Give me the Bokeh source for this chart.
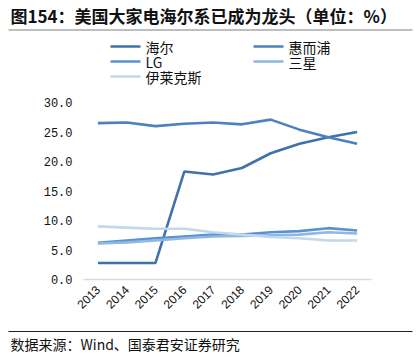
from bokeh.plotting import figure
from bokeh.layouts import column
from bokeh.models import Range1d, FixedTicker, CustomJSTickFormatter
from bokeh.core.properties import value
from bokeh.embed import file_html
from bokeh.resources import INLINE

years = [2013, 2014, 2015, 2016, 2017, 2018, 2019, 2020, 2021, 2022]
haier = [2.8, 2.8, 2.8, 18.3, 17.8, 18.9, 21.4, 23.0, 24.1, 25.0]
whirlpool = [26.5, 26.6, 26.0, 26.4, 26.6, 26.3, 27.1, 25.4, 24.1, 23.0]
lg = [6.2, 6.6, 7.0, 7.3, 7.6, 7.6, 8.0, 8.2, 8.7, 8.3]
samsung = [6.1, 6.3, 6.6, 7.0, 7.3, 7.4, 7.5, 7.6, 8.0, 7.8]
electrolux = [9.0, 8.8, 8.6, 8.6, 8.0, 7.6, 7.2, 7.0, 6.6, 6.6]
y_ticks = [0, 5, 10, 15, 20, 25, 30]

series_names = ["海尔", "惠而浦", "LG", "三星", "伊莱克斯"]
colors = ["#3F72AA", "#4A82BF", "#5793D0", "#90B6E2", "#C3D7EE"]

title_text = "图154：美国大家电海尔系已成为龙头（单位：%）"
source_text = "数据来源：Wind、国泰君安证券研究"

CJK = "Noto Sans CJK SC"
W = 420


def no_align(f):
    try:
        f.frame_align = False
    except Exception:
        pass


def blank(height, y0, y1):
    f = figure(width=W, height=height, output_backend="svg", toolbar_location=None,
               x_range=Range1d(0, W), y_range=Range1d(y1, y0),
               min_border=0, min_border_left=0, min_border_right=0,
               min_border_top=0, min_border_bottom=0)
    f.axis.visible = False
    f.grid.visible = False
    f.outline_line_color = None
    f.background_fill_color = "white"
    f.border_fill_color = "white"
    no_align(f)
    return f


# ---- header: title, rule, legend ----
head = blank(90, 0, 90)
head.text(x=[10], y=[15], text=[title_text], text_font=value(CJK),
          text_font_style="bold", text_font_size="17px", text_baseline="middle",
          text_align="left", text_color="#111111")
head.line(x=[8, 412], y=[29.5, 29.5], line_color="#7F7F7F", line_width=1.2)

leg_x = [110, 253, 110, 253, 110]
leg_y = [46, 46, 61, 61, 76]
head.segment(x0=leg_x, y0=leg_y, x1=[x + 30 for x in leg_x], y1=leg_y,
             line_color=colors, line_width=2.6)
head.text(x=[x + 35 for x in leg_x], y=leg_y, text=series_names, text_font=value(CJK),
          text_font_size="14px", text_baseline="middle", text_align="left",
          text_color="#111111")

# ---- main chart ----
p = figure(width=W, height=240, output_backend="svg", toolbar_location=None,
           x_range=Range1d(2012.5, 2022.5), y_range=Range1d(0, 30),
           min_border_left=83, min_border_right=49, min_border_top=12,
           min_border_bottom=51)
no_align(p)
p.outline_line_color = None
p.xgrid.grid_line_color = None
p.ygrid.grid_line_color = None
p.background_fill_color = "white"
p.border_fill_color = "white"

for vals, c in zip([haier, whirlpool, lg, samsung, electrolux], colors):
    p.line(years, vals, line_color=c, line_width=2.6)

p.xaxis.ticker = FixedTicker(ticks=years)
p.xaxis.major_label_orientation = 0.785398
p.xaxis.major_tick_line_color = None
p.xaxis.minor_tick_line_color = None
p.xaxis.major_tick_out = 0
p.xaxis.major_label_standoff = 8
p.xaxis.axis_line_color = "#D9D9D9"
p.xaxis.axis_line_width = 1.5
p.xaxis.major_label_text_font = "Liberation Sans"
p.xaxis.major_label_text_font_size = "12px"
p.xaxis.major_label_text_color = "#111111"

p.yaxis.ticker = FixedTicker(ticks=y_ticks)
p.yaxis.formatter = CustomJSTickFormatter(code="return tick.toFixed(1);")
p.yaxis.axis_line_color = None
p.yaxis.major_tick_line_color = None
p.yaxis.minor_tick_line_color = None
p.yaxis.major_tick_out = 0
p.yaxis.major_label_standoff = 11
p.yaxis.major_label_text_font = "Liberation Mono"
p.yaxis.major_label_text_font_size = "12px"
p.yaxis.major_label_text_color = "#111111"

# ---- footer: rule and source ----
foot = blank(27, 330, 357)
foot.line(x=[8, 412], y=[331, 331], line_color="#222222", line_width=1.2)
foot.text(x=[10], y=[343.5], text=[source_text], text_font=value(CJK),
          text_font_size="14px", text_baseline="middle", text_align="left",
          text_color="#111111")

layout = column(head, p, foot, spacing=0)
open("out.html", "w").write(file_html(layout, INLINE))
